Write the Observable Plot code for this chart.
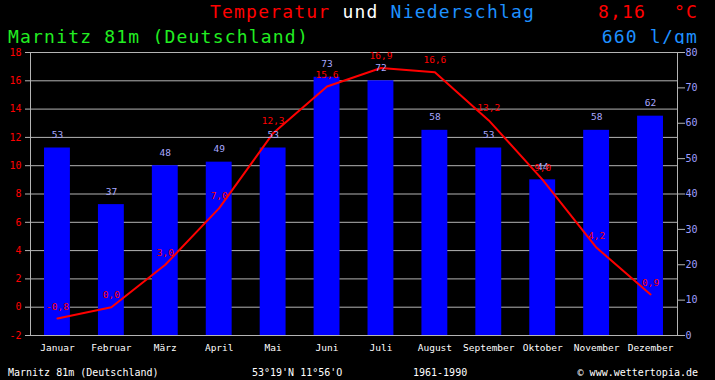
<!DOCTYPE html>
<html>
<head>
<meta charset="utf-8">
<script src="https://cdn.jsdelivr.net/npm/d3@7"></script>
<script src="https://cdn.jsdelivr.net/npm/@observablehq/plot@0.6"></script>
<style>
  html, body { margin: 0; padding: 0; background: #000; }
  #wrap { position: relative; width: 715px; height: 380px; background: #000; overflow: hidden;
          font-family: "DejaVu Sans Mono", monospace; }
  .t { position: absolute; white-space: pre; line-height: 1; }
  .big { font-size: 18px; letter-spacing: 1.2px; }
  .small { font-size: 10px; color: #fff; }
  #chart { position: absolute; left: 0; top: 44px; }
</style>
</head>
<body>
<div id="wrap">
  <div class="t big" style="left:210px; top:3px;"><span style="color:#ff0000">Temperatur</span> <span style="color:#ffffff">und</span> <span style="color:#1e90ff">Niederschlag</span></div>
  <div class="t big" style="left:598px; top:3px; color:#ff0000">8,16</div>
  <div class="t big" style="right:17px; top:3px; color:#ff0000">°C</div>
  <div class="t big" style="left:8px; top:28px; color:#22ee22">Marnitz 81m (Deutschland)</div>
  <div class="t big" style="right:17px; top:28px; color:#1e90ff">660 l/qm</div>
  <div id="chart"></div>
  <div class="t small" style="left:8px; top:368px;">Marnitz 81m (Deutschland)</div>
  <div class="t small" style="left:252px; top:368px;">53°19'N 11°56'O</div>
  <div class="t small" style="left:413px; top:368px;">1961-1990</div>
  <div class="t small" style="right:17px; top:368px;">© www.wettertopia.de</div>
</div>
<script>
const months = ["Januar","Februar","März","April","Mai","Juni","Juli","August","September","Oktober","November","Dezember"];
const temperature = [-0.8, 0.0, 3.0, 7.0, 12.3, 15.6, 16.9, 16.6, 13.2, 9.0, 4.2, 0.9];
const precipitation = [53, 37, 48, 49, 53, 73, 72, 58, 53, 44, 58, 62];
const tempTicks = [-2, 0, 2, 4, 6, 8, 10, 12, 14, 16, 18];
const precipTicks = [0, 10, 20, 30, 40, 50, 60, 70, 80];

// precipitation 0..80 mapped onto temperature axis -2..18
const toT = p => -2 + p / 4;
const toP = t => Math.round((t + 2) * 4);

const data = months.map((m, i) => ({month: m, temp: temperature[i], prec: precipitation[i]}));
const fmt = v => v.toFixed(1).replace(".", ",");

const grey = "#b4b4b4";
const plot = Plot.plot({
  width: 715,
  height: 314,
  marginTop: 8,
  marginBottom: 23,
  marginLeft: 30,
  marginRight: 38,
  style: {background: "#000", color: "#fff", fontFamily: "DejaVu Sans Mono, monospace", fontSize: "10px"},
  x: {domain: months, paddingInner: 0.52, paddingOuter: 0.26, round: false, label: null},
  y: {domain: [-2, 18], label: null},
  marks: [
    Plot.ruleY(tempTicks, {stroke: grey, strokeWidth: 1, insetLeft: -5}),
    Plot.frame({stroke: grey}),
    Plot.barY(data, {x: "month", y1: -2, y2: d => toT(d.prec), fill: "#0000ff"}),
    Plot.axisY({anchor: "left", ticks: tempTicks, tickSize: 0, tickPadding: 9, tickFormat: d => String(d), fill: "#ff0000", label: null}),
    Plot.axisY({anchor: "right", ticks: precipTicks.map(toT), tickSize: 7, stroke: grey, tickPadding: 1, tickFormat: d => String(toP(d)), fill: "#9f9fff", label: null}),
    Plot.axisX({anchor: "bottom", tickSize: 0, tickPadding: 9, fill: "#fff", fontSize: 9.5, label: null}),
    Plot.line(data, {x: "month", y: "temp", stroke: "#ff0000", strokeWidth: 2}),
    Plot.text(data, {x: "month", y: d => toT(d.prec), dy: -13, text: d => String(d.prec), fill: "#a8a8ff", fontSize: 9.5}),
    Plot.text(data, {x: "month", y: "temp", dy: -12, text: d => fmt(d.temp), fill: "#ff0000", fontSize: 9.5})
  ]
});
document.getElementById("chart").appendChild(plot);
</script>
</body>
</html>
